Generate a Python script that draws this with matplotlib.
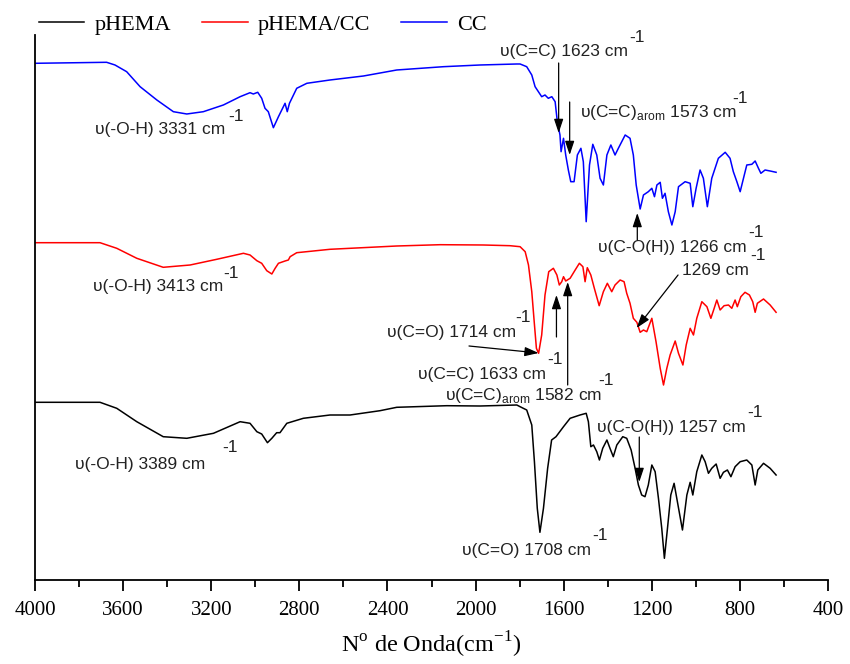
import matplotlib.pyplot as plt

# FTIR spectra (transmittance, arbitrary units, stacked)
wn_phema = [4000, 3705, 3629, 3538, 3418, 3311, 3190, 3069, 3024, 2993, 2971, 2945, 2925, 2903,
            2888, 2857, 2782, 2661, 2570, 2434, 2358, 2131, 1980, 1813, 1798, 1768, 1745, 1733,
            1720, 1708, 1692, 1673, 1655, 1635, 1601, 1571, 1526, 1498, 1488, 1477, 1465, 1450,
            1438, 1423, 1404, 1390, 1375, 1359, 1332, 1314, 1294, 1276, 1261, 1246, 1231, 1216,
            1200, 1185, 1170, 1155, 1143, 1129, 1114, 1099, 1084, 1061, 1041, 1026, 1014, 996,
            973, 958, 943, 928, 908, 890, 875, 857, 841, 822, 799, 769, 746, 731, 719, 693, 663, 636]
t_phema = [177.7, 177.7, 171.7, 158.3, 143.3, 141.7, 146.7, 158.3, 156.7, 148.3, 146.0, 137.3, 141.7, 147.3,
           147.3, 156.7, 161.7, 165.0, 165.0, 169.3, 172.7, 174.3, 174.0, 175.0, 173.3, 170.0, 155.0, 118.3,
           71.7, 47.7, 71.7, 111.7, 140.0, 143.3, 153.3, 161.7, 165.0, 166.7, 158.3, 133.3, 135.0, 128.3,
           120.0, 131.7, 140.0, 131.7, 123.3, 135.0, 143.3, 141.7, 130.0, 111.7, 95.0, 85.0, 83.3, 95.0,
           115.0, 108.3, 81.7, 51.7, 21.7, 51.7, 85.0, 96.7, 78.3, 50.0, 85.0, 97.7, 85.0, 108.3,
           125.0, 118.3, 106.7, 111.7, 116.0, 101.7, 107.7, 110.0, 103.3, 113.3, 118.3, 120.0, 115.0, 95.0, 110.0, 116.7, 111.7, 105.0]

wn_blend = [4000, 3705, 3629, 3538, 3418, 3296, 3175, 3054, 3024, 2993, 2971, 2948, 2925, 2910,
            2895, 2865, 2850, 2842, 2812, 2661, 2358, 2161, 1965, 1844, 1798, 1775, 1760, 1745,
            1734, 1724, 1714, 1700, 1685, 1668, 1647, 1631, 1620, 1609, 1601, 1591, 1571, 1548,
            1529, 1513, 1503, 1493, 1477, 1461, 1439, 1420, 1402, 1382, 1367, 1344, 1326, 1314,
            1299, 1284, 1268, 1253, 1238, 1223, 1200, 1181, 1162, 1147, 1132, 1117, 1094, 1079,
            1059, 1044, 1026, 1011, 996, 973, 950, 932, 917, 905, 890, 872, 852, 837, 822, 812,
            796, 777, 757, 742, 731, 721, 693, 663, 636]
t_blend = [337.3, 337.3, 331.7, 321.7, 312.7, 315.0, 320.7, 326.7, 325.0, 319.3, 316.7, 309.3, 306.0, 311.7,
           316.7, 319.0, 320.0, 323.3, 327.3, 330.7, 334.0, 335.3, 335.0, 334.3, 333.3, 328.3, 315.0, 288.3,
           258.3, 231.7, 226.7, 245.0, 285.0, 308.3, 311.7, 305.0, 295.0, 298.3, 303.3, 299.0, 301.7, 310.0,
           316.7, 313.3, 298.3, 312.3, 305.0, 291.7, 274.3, 288.3, 296.7, 288.3, 295.0, 300.0, 298.3, 286.7,
           276.7, 261.7, 257.7, 247.7, 250.0, 248.3, 261.7, 238.3, 211.7, 195.0, 211.7, 225.0, 239.0, 226.7,
           215.0, 235.0, 251.7, 245.0, 261.7, 278.3, 273.3, 261.7, 271.7, 280.0, 270.0, 274.3, 275.0, 271.7, 280.0, 273.3,
           283.3, 287.7, 285.0, 278.3, 267.7, 276.7, 281.0, 275.0, 267.7]

wn_cc = [4000, 3675, 3637, 3584, 3523, 3447, 3372, 3311, 3236, 3145, 3069, 3024, 3009, 2989, 2971,
         2956, 2941, 2918, 2895, 2865, 2855, 2845, 2812, 2766, 2661, 2509, 2358, 2146, 1980,
         1813, 1798, 1768, 1745, 1730, 1700, 1685, 1670, 1654, 1639, 1629, 1617, 1612, 1601,
         1591, 1579, 1568, 1553, 1538, 1522, 1511, 1498, 1483, 1468, 1450, 1435, 1420, 1404,
         1386, 1367, 1352, 1321, 1299, 1284, 1271, 1253, 1238, 1216, 1200, 1188, 1177, 1162,
         1152, 1140, 1125, 1109, 1094, 1079, 1049, 1026, 1014, 999, 981, 966, 948, 928, 898,
         867, 845, 830, 814, 799, 784, 769, 746, 731, 716, 705, 686, 663, 636]
t_cc = [516.7, 517.7, 515.0, 508.3, 493.3, 480.0, 468.3, 466.0, 468.3, 475.0, 483.3, 487.3, 486.0, 487.7, 481.7,
        471.7, 468.3, 452.3, 463.3, 476.7, 468.3, 476.7, 491.7, 496.7, 500.0, 504.0, 510.0, 513.3, 515.0,
        516.0, 516.0, 513.3, 505.0, 493.3, 483.3, 485.0, 481.7, 483.3, 478.3, 458.3, 445.0, 428.3, 441.7,
        425.0, 410.0, 398.3, 398.3, 425.0, 431.7, 418.3, 358.3, 415.0, 435.7, 425.0, 401.7, 395.0, 425.0,
        435.0, 425.0, 431.7, 445.0, 441.7, 425.0, 395.0, 371.0, 385.0, 388.3, 391.7, 383.3, 395.0, 397.7,
        381.7, 386.7, 368.3, 355.0, 368.3, 393.3, 398.3, 396.7, 373.3, 391.7, 410.0, 401.7, 373.3, 401.7, 421.7,
        427.7, 421.7, 408.3, 398.3, 388.3, 401.7, 415.0, 415.7, 419.0, 411.7, 406.7, 410.0, 409.0, 407.7]

SANS = ["Liberation Sans", "DejaVu Sans"]
SERIF = ["Liberation Serif", "DejaVu Serif"]

fig = plt.figure(figsize=(8.5, 6.64), dpi=100)
ax = fig.add_axes([0.0412, 0.1265, 0.9330, 0.8208])

style = dict(lw=1.1, solid_joinstyle="round")
l1, = ax.plot(wn_phema, t_phema, color="black", label="pHEMA", **style)
l2, = ax.plot(wn_blend, t_blend, color="#ff0000", label="pHEMA/CC", **style)
l3, = ax.plot(wn_cc, t_cc, color="#0000ff", label="CC", **style)

ax.set_xlim(4000, 400)
ax.set_ylim(0, 545)
ax.set_xticks(range(4000, 399, -400))
ax.set_xticks(range(3800, 399, -400), minor=True)
ax.set_yticks([])
for s in ["top", "right"]:
    ax.spines[s].set_visible(False)
for s in ["left", "bottom"]:
    ax.spines[s].set_linewidth(1.3)
ax.tick_params(axis="x", which="major", direction="out", length=8, width=1.3, pad=7)
ax.tick_params(axis="x", which="minor", direction="out", length=5, width=1.3)
for lab in ax.get_xticklabels():
    lab.set_fontfamily(SERIF)
    lab.set_fontsize(15)
ax.set_xlabel(r"N$^{\mathregular{o}}$ de Onda(cm$^{\mathregular{-1}}$)",
              family=SERIF, fontsize=17.5, labelpad=7)

arrow = dict(arrowstyle="-|>,head_length=0.6,head_width=0.2", color="black",
             lw=0.9, mutation_scale=14, shrinkA=0, shrinkB=0)


def band(x, y, text, sx, sy):
    ax.text(x, y, text, family=SANS, fontsize=12.5, ha="left", va="center", color="#222222")
    ax.text(sx, sy, "-1", family=SANS, fontsize=12.5, ha="left", va="center", color="#222222")


def point(x_from, y_from, x_to, y_to):
    ax.annotate("", xy=(x_to, y_to), xytext=(x_from, y_from), arrowprops=arrow)


arom = r"υ(C=C)$_{\mathregular{arom}}$"

# CC
band(3728, 450, "υ(-O-H) 3331 cm", 3124, 463)
band(1889, 528, "υ(C=C) 1623 cm", 1303, 542)
point(1623, 517, 1623, 447)
band(1526, 467, arom + " 1573 cm", 836, 481)
point(1573, 478, 1573, 425)
band(1444, 332, "υ(C-O(H)) 1266 cm", 763, 347)
point(1266, 340, 1266, 367)

# pHEMA/CC
band(3737, 293, "υ(-O-H) 3413 cm", 3146, 306)
band(2402, 247, "υ(C=O) 1714 cm", 1821, 262)
point(2030, 234, 1714, 227)
band(2261, 205, "υ(C=C) 1633 cm", 1676, 220)
point(1633, 243, 1633, 285)
band(2139, 185, arom + " 1582 cm", 1444, 199)
point(1582, 195, 1582, 298)
band(1063, 309, "1269 cm", 754, 324)
point(1081, 305, 1269, 252)

# pHEMA
band(3818, 116, "υ(-O-H) 3389 cm", 3151, 133)
band(1449, 153, "υ(C-O(H)) 1257 cm", 767, 168)
point(1257, 143, 1257, 98)
band(2061, 30, "υ(C=O) 1708 cm", 1471, 45)

fig.legend(handles=[l1, l2, l3], loc="upper left", bbox_to_anchor=(0.03, 0.998), ncol=3,
           frameon=False, prop={"family": SERIF, "size": 16}, handlelength=2.05,
           handletextpad=0.45, columnspacing=1.4, borderaxespad=0.2)

fig.savefig("out.png", dpi=100)
